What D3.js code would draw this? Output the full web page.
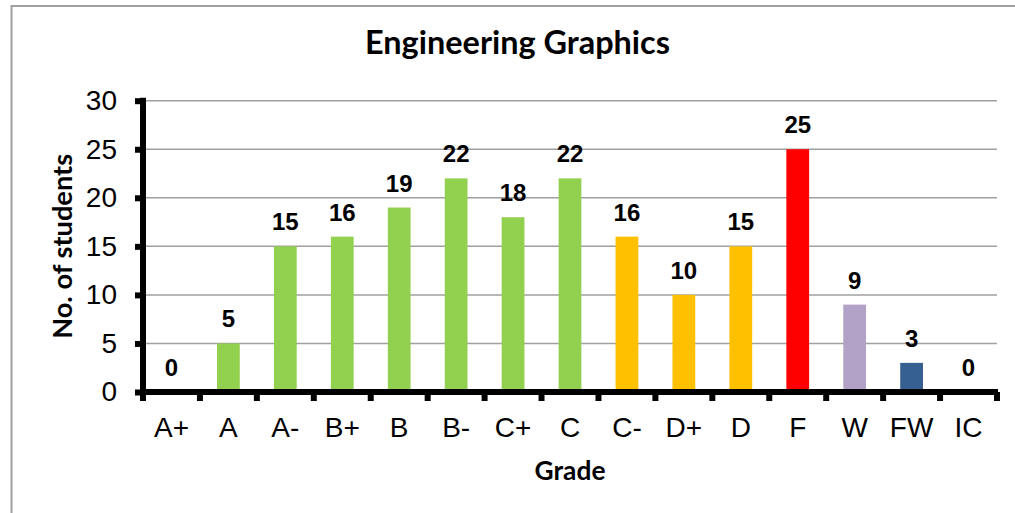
<!DOCTYPE html>
<head>
  <meta charset="utf-8">
  <script src="https://d3js.org/d3.v7.min.js"></script>
  <style>
    body { margin:0; background:#fff; }
    .tick text { font-family: "Liberation Sans", Arial, sans-serif; }
  </style>
</head>
<body>
  <script>
    var grades = ["A+", "A", "A-", "B+", "B", "B-", "C+", "C", "C-", "D+", "D", "F", "W", "FW", "IC"];
    var students = [0, 5, 15, 16, 19, 22, 18, 22, 16, 10, 15, 25, 9, 3, 0];
    var yTicks = [0, 5, 10, 15, 20, 25, 30];
    var barColors = ["#92d050", "#92d050", "#92d050", "#92d050", "#92d050", "#92d050", "#92d050", "#92d050",
                     "#ffc000", "#ffc000", "#ffc000", "#ff0000", "#b3a2c7", "#376092", "#376092"];

    var W = 1015, H = 513;
    var plotLeft = 143, plotRight = 997, plotTop = 100.7, plotBottom = 392;

    var svg = d3.select("body").append("svg")
      .attr("width", W)
      .attr("height", H);

    // chart border (runs off the picture at right and bottom)
    svg.append("rect")
      .attr("x", 11.5).attr("y", 6)
      .attr("width", 1030).attr("height", 530)
      .attr("fill", "#fff")
      .attr("stroke", "#a0a0a0")
      .attr("stroke-width", 2);

    var x = d3.scaleBand()
      .domain(grades)
      .range([plotLeft, plotRight])
      .paddingInner(0.6)
      .paddingOuter(0.3);

    var y = d3.scaleLinear()
      .domain([0, 30])
      .range([plotBottom, plotTop]);

    var color = d3.scaleOrdinal().domain(grades).range(barColors);

    // gridlines
    svg.append("g")
      .selectAll("line")
      .data(yTicks.slice(1))
      .enter().append("line")
      .attr("x1", plotLeft).attr("x2", plotRight)
      .attr("y1", function(d) { return y(d); })
      .attr("y2", function(d) { return y(d); })
      .attr("stroke", "#a0a0a0")
      .attr("stroke-width", 1.5);

    // bars
    svg.selectAll(".bar")
      .data(grades)
      .enter().append("rect")
      .attr("class", "bar")
      .attr("x", function(d) { return x(d); })
      .attr("width", x.bandwidth())
      .attr("y", function(d, i) { return y(students[i]); })
      .attr("height", function(d, i) { return plotBottom - y(students[i]); })
      .attr("fill", function(d) { return color(d); });

    // value labels
    svg.selectAll(".val")
      .data(grades)
      .enter().append("text")
      .attr("class", "val")
      .attr("x", function(d) { return x(d) + x.bandwidth() / 2; })
      .attr("y", function(d, i) { return y(students[i]) - 16; })
      .attr("text-anchor", "middle")
      .style("font-family", "'Liberation Sans', Arial, sans-serif")
      .style("font-weight", "bold")
      .style("font-size", "24px")
      .text(function(d, i) { return students[i]; });

    // y axis
    var yAxis = svg.append("g")
      .attr("transform", "translate(" + plotLeft + ",0)")
      .call(d3.axisLeft(y).tickValues(yTicks).tickSizeInner(8).tickSizeOuter(0).tickPadding(18));
    yAxis.select(".domain").attr("stroke", "#000").attr("stroke-width", 6)
      .attr("d", "M0," + (plotTop - 3) + "V" + (plotBottom + 3));
    yAxis.selectAll(".tick line").attr("stroke", "#000").attr("stroke-width", 6);
    yAxis.selectAll(".tick text").style("font-size", "28px").attr("fill", "#000");

    // x axis: labels at band centres
    var xAxis = svg.append("g")
      .attr("transform", "translate(0," + plotBottom + ")")
      .call(d3.axisBottom(x).tickSize(0).tickPadding(25));
    xAxis.select(".domain").attr("stroke", "#000").attr("stroke-width", 6)
      .attr("d", "M" + plotLeft + ",0H" + (plotRight + 1));
    xAxis.selectAll(".tick text").style("font-size", "28px").attr("fill", "#000");

    // x ticks at band boundaries
    xAxis.selectAll(".bound")
      .data(d3.range(grades.length + 1))
      .enter().append("line")
      .attr("class", "bound")
      .attr("x1", function(i) { return plotLeft + i * x.step(); })
      .attr("x2", function(i) { return plotLeft + i * x.step(); })
      .attr("y1", 0).attr("y2", 9)
      .attr("stroke", "#000")
      .attr("stroke-width", 6);

    // helper: bold title text fitted to a width
    function fitText(sel, txt, width) {
      sel.style("font-family", "Lato, 'Open Sans', sans-serif")
        .style("font-weight", "bold")
        .style("font-size", "20px")
        .attr("text-anchor", "middle")
        .text(txt);
      var len = sel.node().getComputedTextLength();
      sel.style("font-size", (20 * width / len) + "px");
      return sel;
    }

    fitText(svg.append("text").attr("x", 517.5).attr("y", 54), "Engineering Graphics", 305);
    fitText(svg.append("text").attr("x", 570).attr("y", 480), "Grade", 71);
    fitText(svg.append("text")
      .attr("transform", "translate(72," + ((plotTop + plotBottom) / 2) + ") rotate(-90)"),
      "No. of students", 185);
  </script>
</body>
